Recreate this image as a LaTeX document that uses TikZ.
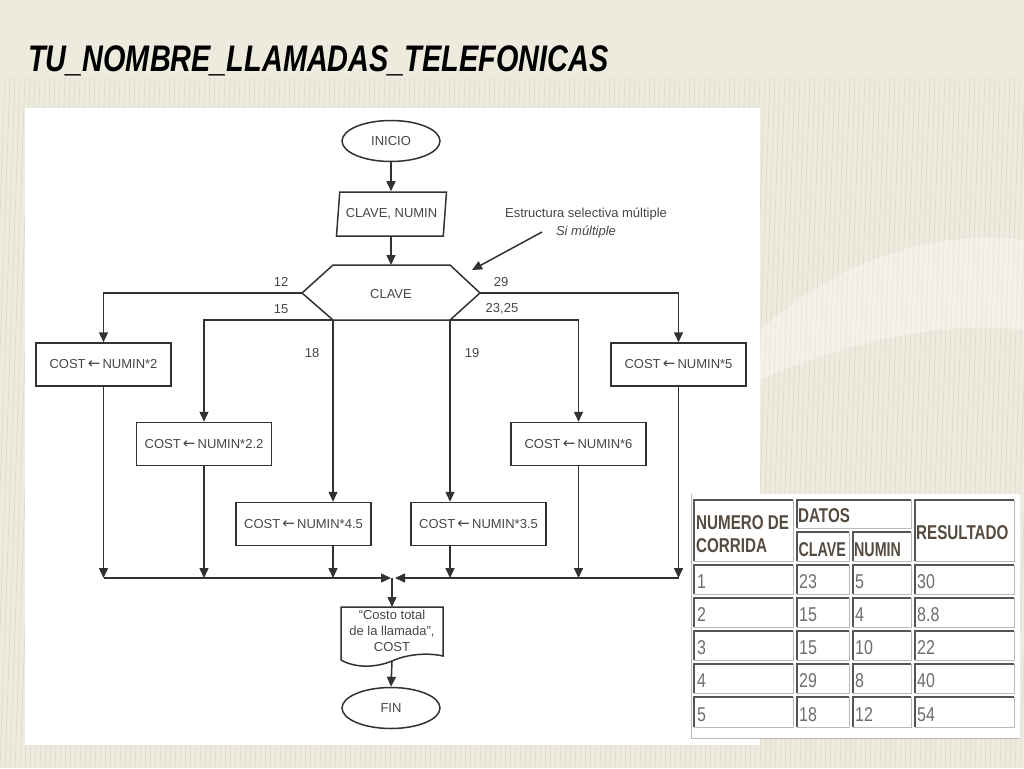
\documentclass[tikz,border=0pt]{standalone}
\usepackage{fontspec}
\setmainfont{Liberation Sans}
\newfontfamily\arrowfont{DejaVu Sans}
\usetikzlibrary{arrows.meta,shapes.geometric,calc}
\definecolor{bgc}{RGB}{237,234,222}
\definecolor{stripec}{RGB}{200,196,180}
\definecolor{linec}{RGB}{50,50,50}
\definecolor{txtc}{RGB}{70,70,70}
\definecolor{hdrc}{RGB}{85,75,65}
\definecolor{datc}{RGB}{110,110,110}
\definecolor{cdark}{RGB}{85,85,85}
\definecolor{clight}{RGB}{185,185,185}
\newcommand{\fcfont}{\fontsize{13}{16}\selectfont}
\newcommand{\tbfont}{\fontsize{20}{22}\selectfont}
\newcommand{\larr}{{\arrowfont\fontsize{15}{16}\selectfont ←}}
\newcommand{\mycell}[4]{%
  \draw[cdark, line width=1.6pt] (#1,#4) -- (#1,#2) -- (#3,#2);
  \draw[clight, line width=1pt] (#3,#2) -- (#3,#4) -- (#1,#4);}
\tikzset{
  fc/.style={draw=linec, line width=1.5pt, fill=white, text=txtc, font=\fcfont},
  proc/.style={fc, rectangle, minimum width=135pt, minimum height=43pt, inner sep=0pt},
  term/.style={fc, ellipse, minimum width=98pt, minimum height=41pt, inner sep=0pt},
  flow/.style={draw=linec, line width=1.5pt, -{Triangle[length=10pt,width=9pt]}},
  lbl/.style={text=txtc, font=\fcfont, inner sep=0pt},
  thd/.style={text=hdrc, font=\tbfont\bfseries, inner sep=0pt, anchor=base west, xscale=0.76},
  tdt/.style={text=datc, font=\tbfont, inner sep=0pt, anchor=base west, xscale=0.8},
}
\begin{document}
\begin{tikzpicture}[x=1pt,y=-1pt]
\useasboundingbox (0,0) rectangle (1024,768);
% background
\fill[bgc] (0,0) rectangle (1024,768);
\begin{scope}
  \clip (0,78) rectangle (1024,768);
  \foreach \s in {0,5,...,1080} \draw[stripec, opacity=0.45, line width=0.6pt] (\s,78) -- (\s-25,768);
\end{scope}
\fill[white, opacity=0.35] (760,330) .. controls (850,250) and (950,230) .. (1024,240) -- (1024,330) .. controls (950,320) and (850,340) .. (760,380) -- cycle;
% title
\node[anchor=base west, inner sep=0pt, font=\fontsize{37}{37}\selectfont\bfseries\itshape, xscale=0.78] (title) at (28,71) {TU\_NOMBRE\_LLAMADAS\_TELEFONICAS};
% flowchart panel
\fill[white] (25,108) rectangle (760,745);
% terminals and input
\node[term] (ini) at (391,141) {INICIO};
\node[fc, trapezium, trapezium left angle=75, trapezium right angle=105, trapezium stretches=true, minimum width=111pt, minimum height=44pt, inner sep=0pt] (in) at (391.5,214) {CLAVE, NUMIN};
% selector hexagon
\coordinate (hL) at (302,293);
\coordinate (hR) at (480,293);
\coordinate (hT) at (391,265);
\coordinate (hBL) at (333,320);
\coordinate (hBR) at (450,320);
\draw[fc] (hL) -- (333,265) -- (450,265) -- (hR) -- (hBR) -- (hBL) -- cycle;
\node[lbl] (sw) at (391,294) {CLAVE};
% annotation
\node[lbl] (ann1) at (586,214) {Estructura selectiva múltiple};
\node[lbl, font=\fcfont\itshape] (ann2) at (586,232) {Si múltiple};
\coordinate (annS) at (542,232);
\coordinate (annE) at (472,270);
\draw[flow] (annS) -- (annE);
% process boxes
\node[proc] (b1) at (103.5,364.5) {COST\,\larr\,NUMIN*2};
\node[proc] (b6) at (678.5,364.5) {COST\,\larr\,NUMIN*5};
\node[proc] (b2) at (204,444) {COST\,\larr\,NUMIN*2.2};
\node[proc] (b5) at (578.5,444) {COST\,\larr\,NUMIN*6};
\node[proc] (b3) at (303.5,524) {COST\,\larr\,NUMIN*4.5};
\node[proc] (b4) at (478.5,524) {COST\,\larr\,NUMIN*3.5};
% branch connectors
\draw[flow] (hL) -| (b1.north);
\draw[flow] (hR) -| (b6.north);
\draw[flow] (hBL) -| (b2.north);
\draw[flow] (hBL) -- (hBL |- b3.north);
\draw[flow] (hBR) -| (b5.north);
\draw[flow] (hBR) -- (hBR |- b4.north);
% branch labels
\node[lbl] (l12) at (281,282) {12};
\node[lbl] (l15) at (281,309) {15};
\node[lbl] (l29) at (501,282) {29};
\node[lbl] (l2325) at (502,309) {23,25};
\node[lbl] (l18) at (312,353) {18};
\node[lbl] (l19) at (472,353) {19};
% top connectors
\draw[flow] (ini.south) -- (ini.south |- in.north);
\draw[flow] (in.south -| hT) -- (hT);
% join
\coordinate (join) at (392,578);
\coordinate (joinL) at (391,578);
\coordinate (joinR) at (395,578);
\draw[flow] (b1.south) -- (b1.south |- join);
\draw[flow] (b2.south) -- (b2.south |- join);
\draw[flow] (hBL |- b3.south) -- (hBL |- join);
\draw[flow] (hBR |- b4.south) -- (hBR |- join);
\draw[flow] (b5.south) -- (b5.south |- join);
\draw[flow] (b6.south) -- (b6.south |- join);
\draw[flow] (b1.south |- join) -- (joinL);
\draw[flow] (b6.south |- join) -- (joinR);
% output document
\coordinate (docT) at (392,607);
\coordinate (docB) at (392,661);
\draw[fc] (341,607) -- (443,607) -- (443,656) .. controls (425,652) and (405,655) .. (392,661) .. controls (375,668) and (355,668) .. (341,660) -- cycle;
\node[lbl, align=center] (doc) at (392,631) {“Costo total\\de la llamada”,\\COST};
\node[term] (fin) at (391,708) {FIN};
\draw[flow] (join) -- (docT);
\draw[flow] (docB) -- (fin.north);
% table panel
\fill[white] (691,494) rectangle (1020,738);
\draw[clight, line width=0.8pt] (691,494) -- (691,738) -- (1020,738);
\mycell{694}{500}{793}{561}
\mycell{797}{500}{911}{528}
\mycell{797}{532}{849}{561}
\mycell{853}{532}{911}{561}
\mycell{915}{500}{1014}{561}
\foreach \ya/\yb in {565/594,598/627,631/660,664/693,697/727}{
  \mycell{694}{\ya}{793}{\yb}
  \mycell{797}{\ya}{849}{\yb}
  \mycell{853}{\ya}{911}{\yb}
  \mycell{915}{\ya}{1014}{\yb}
}
\node[thd] (hn1) at (696,529) {NUMERO DE};
\node[thd] (hn2) at (696,552) {CORRIDA};
\node[thd] (hda) at (798,522) {DATOS};
\node[thd, xscale=0.94] (hcl) at (798.5,556) {CLAVE};
\node[thd, xscale=0.94] (hnu) at (854,556) {NUMIN};
\node[thd] (hre) at (916,539) {RESULTADO};
\node[tdt] (r1a) at (697,588) {1};
\node[tdt] (r1b) at (799,588) {23};
\node[tdt] (r1c) at (855,588) {5};
\node[tdt] (r1d) at (917,588) {30};
\node[tdt] (r2a) at (697,621) {2};
\node[tdt] (r2b) at (799,621) {15};
\node[tdt] (r2c) at (855,621) {4};
\node[tdt] (r2d) at (917,621) {8.8};
\node[tdt] (r3a) at (697,654) {3};
\node[tdt] (r3b) at (799,654) {15};
\node[tdt] (r3c) at (855,654) {10};
\node[tdt] (r3d) at (917,654) {22};
\node[tdt] (r4a) at (697,687) {4};
\node[tdt] (r4b) at (799,687) {29};
\node[tdt] (r4c) at (855,687) {8};
\node[tdt] (r4d) at (917,687) {40};
\node[tdt] (r5a) at (697,721) {5};
\node[tdt] (r5b) at (799,721) {18};
\node[tdt] (r5c) at (855,721) {12};
\node[tdt] (r5d) at (917,721) {54};
\end{tikzpicture}
\end{document}
